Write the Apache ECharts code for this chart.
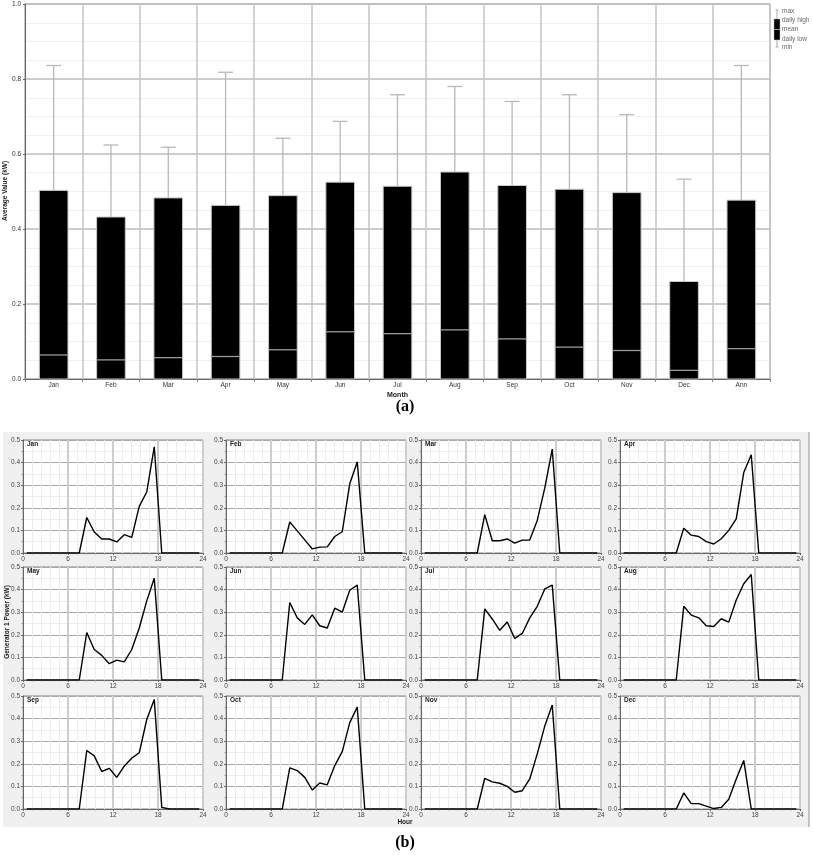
<!DOCTYPE html>
<html>
<head>
<meta charset="utf-8">
<script src="https://cdn.jsdelivr.net/npm/echarts@6/dist/echarts.min.js"></script>
<style>
html,body{margin:0;padding:0;background:#fff;}
#chart{width:813px;height:855px;}
</style>
</head>
<body>
<div id="chart"></div>
<script>
// ---- Data: chart (a) monthly statistics ----
const months = ['Jan','Feb','Mar','Apr','May','Jun','Jul','Aug','Sep','Oct','Nov','Dec','Ann'];
const maxVals   = [0.836,0.624,0.618,0.818,0.642,0.687,0.758,0.780,0.740,0.758,0.705,0.533,0.836];
const dailyHigh = [0.503,0.432,0.483,0.463,0.489,0.525,0.514,0.552,0.516,0.506,0.497,0.260,0.477];
const meanVals  = [0.064,0.051,0.057,0.060,0.078,0.126,0.121,0.131,0.107,0.085,0.076,0.023,0.081];
const dailyLow  = [0,0,0,0,0,0,0,0,0,0,0,0,0];
const minVals   = [0,0,0,0,0,0,0,0,0,0,0,0,0];
const yTicksA   = [0.0,0.2,0.4,0.6,0.8,1.0];

// ---- Data: chart (b) daily profiles ----
const hours = [0.5,1.5,2.5,3.5,4.5,5.5,6.5,7.5,8.5,9.5,10.5,11.5,12.5,13.5,14.5,15.5,16.5,17.5,18.5,19.5,20.5,21.5,22.5,23.5];
const panelNames = ['Jan','Feb','Mar','Apr','May','Jun','Jul','Aug','Sep','Oct','Nov','Dec'];
const jan = [0,0,0,0,0,0,0,0,0.157,0.093,0.062,0.062,0.049,0.081,0.069,0.206,0.270,0.470,0,0,0,0,0,0];
const feb = [0,0,0,0,0,0,0,0,0.137,0.098,0.058,0.018,0.026,0.027,0.073,0.094,0.306,0.403,0,0,0,0,0,0];
const mar = [0,0,0,0,0,0,0,0,0.170,0.054,0.054,0.062,0.044,0.057,0.057,0.144,0.287,0.460,0,0,0,0,0,0];
const apr = [0,0,0,0,0,0,0,0,0.110,0.079,0.073,0.050,0.040,0.063,0.100,0.151,0.356,0.435,0,0,0,0,0,0];
const may = [0,0,0,0,0,0,0,0,0.210,0.135,0.109,0.072,0.088,0.080,0.135,0.230,0.350,0.450,0,0,0,0,0,0];
const jun = [0,0,0,0,0,0,0,0,0.343,0.275,0.246,0.288,0.240,0.230,0.318,0.300,0.397,0.420,0,0,0,0,0,0];
const jul = [0,0,0,0,0,0,0,0,0.315,0.270,0.220,0.257,0.184,0.206,0.275,0.326,0.403,0.420,0,0,0,0,0,0];
const aug = [0,0,0,0,0,0,0,0,0.326,0.287,0.275,0.240,0.237,0.271,0.256,0.354,0.426,0.467,0,0,0,0,0,0];
const sep = [0,0,0,0,0,0,0,0,0.259,0.235,0.166,0.180,0.140,0.190,0.225,0.249,0.396,0.485,0.007,0,0,0,0,0];
const oct = [0,0,0,0,0,0,0,0,0.182,0.170,0.140,0.084,0.115,0.107,0.192,0.254,0.382,0.451,0,0,0,0,0,0];
const nov = [0,0,0,0,0,0,0,0,0.136,0.120,0.114,0.100,0.074,0.081,0.133,0.244,0.367,0.460,0,0,0,0,0,0];
const dec = [0,0,0,0,0,0,0,0,0.071,0.024,0.024,0.013,0.002,0.007,0.043,0.133,0.215,0,0,0,0,0,0,0];
const profiles = [jan,feb,mar,apr,may,jun,jul,aug,sep,oct,nov,dec];
const hourTicks = [0,6,12,18,24];

// ---- Layout (not data) ----
const FONT = 'Liberation Sans, Arial, sans-serif';
const colLefts = [23, 226, 421, 620];
const rowTops = [440, 567, 696];
const panelW = 180, panelH = 113;

const chart = echarts.init(document.getElementById('chart'), null, {renderer:'canvas'});

const grids = [], xAxes = [], yAxes = [], series = [], titles = [];

// chart (a)
grids.push({left:25, right:43, top:4, bottom:476, show:true, borderColor:'#999', borderWidth:1, backgroundColor:'#fff', containLabel:false, outerBoundsMode:'none'});
xAxes.push({
  type:'category', gridIndex:0, data:months, boundaryGap:true,
  name:'Month', nameLocation:'middle', nameGap:13,
  nameTextStyle:{fontFamily:FONT, fontSize:7, fontWeight:'bold', color:'#222'},
  axisLine:{lineStyle:{color:'#666', width:1}},
  axisTick:{show:true, length:3, lineStyle:{color:'#888'}},
  axisLabel:{fontFamily:FONT, fontSize:6.5, color:'#333', margin:3},
  splitLine:{show:true, lineStyle:{color:'#c4c4c4', width:1.5}}
});
yAxes.push({
  type:'value', gridIndex:0, min:0, max:1, interval:0.2,
  axisLine:{show:true, lineStyle:{color:'#666', width:1}},
  axisTick:{show:true, length:2, lineStyle:{color:'#666'}},
  axisLabel:{fontFamily:FONT, fontSize:6.5, color:'#333', margin:4, formatter:v=>v.toFixed(1)},
  splitLine:{show:true, lineStyle:{color:'#bdbdbd', width:1.5}},
  minorTick:{show:false, splitNumber:4},
  minorSplitLine:{show:true, lineStyle:{color:'#f0f0f0', width:1}}
});
const boxData = months.map((m,i)=>[i, dailyLow[i], meanVals[i], dailyHigh[i], maxVals[i], minVals[i]]);
series.push({
  type:'custom', xAxisIndex:0, yAxisIndex:0, z:5,
  encode:{x:0, y:[1,2,3,4,5]},
  data:boxData,
  renderItem:function(params, api){
    const x = api.value(0);
    const low = api.coord([x, api.value(1)]);
    const mean = api.coord([x, api.value(2)]);
    const high = api.coord([x, api.value(3)]);
    const mx = api.coord([x, api.value(4)]);
    const mn = api.coord([x, api.value(5)]);
    const bw = api.size([1,0])[0]*0.5;
    const cw = bw*0.52;
    const wc = '#b8b8b8';
    return {type:'group', children:[
      {type:'line', shape:{x1:mx[0], y1:mx[1], x2:high[0], y2:high[1]}, style:{stroke:wc, lineWidth:1.3}},
      {type:'line', shape:{x1:mx[0]-cw/2, y1:mx[1], x2:mx[0]+cw/2, y2:mx[1]}, style:{stroke:wc, lineWidth:1.3}},
      {type:'line', shape:{x1:mn[0], y1:mn[1], x2:low[0], y2:low[1]}, style:{stroke:wc, lineWidth:1.3}},
      {type:'rect', shape:{x:high[0]-bw/2, y:high[1], width:bw, height:low[1]-high[1]}, style:{fill:'#000', stroke:'#c8c8c8', lineWidth:1}},
      {type:'line', shape:{x1:mean[0]-bw/2, y1:mean[1], x2:mean[0]+bw/2, y2:mean[1]}, style:{stroke:'#9a9a9a', lineWidth:1.3}}
    ]};
  }
});

// chart (b) panels
profiles.forEach((prof, k)=>{
  const r = Math.floor(k/4), c = k%4;
  const gi = k+1;
  grids.push({left:colLefts[c], top:rowTops[r], width:panelW, height:panelH, show:true,
    backgroundColor:'#fff', borderColor:'#888', borderWidth:1, containLabel:false, outerBoundsMode:'none'});
  xAxes.push({
    type:'value', gridIndex:gi, min:0, max:24, interval:6,
    axisLine:{lineStyle:{color:'#666', width:1}},
    axisTick:{show:true, length:2, lineStyle:{color:'#666'}},
    minorTick:{show:true, splitNumber:5, length:1.5, lineStyle:{color:'#999'}},
    axisLabel:{fontFamily:FONT, fontSize:6.5, color:'#444', margin:3},
    splitLine:{show:true, lineStyle:{color:'#cdcdcd', width:2}},
    minorSplitLine:{show:true, lineStyle:{color:'#ececec', width:1}}
  });
  yAxes.push({
    type:'value', gridIndex:gi, min:0, max:0.5, interval:0.1,
    axisLine:{show:true, lineStyle:{color:'#666', width:1}},
    axisTick:{show:true, length:2, lineStyle:{color:'#666'}},
    minorTick:{show:true, splitNumber:2, length:1.5, lineStyle:{color:'#999'}},
    axisLabel:{fontFamily:FONT, fontSize:6.5, color:'#444', margin:3, formatter:v=>v.toFixed(1)},
    splitLine:{show:true, lineStyle:{color:'#a8a8a8', width:1}},
    minorSplitLine:{show:true, lineStyle:{color:'#ececec', width:1}}
  });
  series.push({
    type:'line', xAxisIndex:gi, yAxisIndex:gi, showSymbol:false, symbol:'none',
    data:hours.map((h,i)=>[h, prof[i]]),
    lineStyle:{color:'#000', width:1.4}, z:5, silent:true
  });
  titles.push({text:panelNames[k], left:colLefts[c]+4, top:rowTops[r]+1,
    textStyle:{fontFamily:FONT, fontSize:6.5, fontWeight:'bold', color:'#222'}, padding:0});
});

const legendTxt = {fontFamily:FONT, fontSize:6.5, fill:'#666'};
const option = {
  backgroundColor:'#fff',
  animation:false,
  title:titles,
  grid:grids, xAxis:xAxes, yAxis:yAxes, series:series,
  graphic:[
    {type:'rect', z:-10, shape:{x:3, y:432, width:806, height:395}, style:{fill:'#f0f0f0'}},
    {type:'rect', z:-9, shape:{x:808, y:432, width:2, height:395}, style:{fill:'#c4c4c4'}},
    // legend of (a)
    {type:'line', shape:{x1:777, y1:10, x2:777, y2:47}, style:{stroke:'#aaa', lineWidth:1}},
    {type:'line', shape:{x1:775.5, y1:10, x2:778.5, y2:10}, style:{stroke:'#aaa', lineWidth:1}},
    {type:'line', shape:{x1:775.5, y1:47, x2:778.5, y2:47}, style:{stroke:'#aaa', lineWidth:1}},
    {type:'rect', shape:{x:774, y:19, width:6, height:21}, style:{fill:'#000', stroke:'#bbb', lineWidth:0.5}},
    {type:'line', shape:{x1:774, y1:29.5, x2:780, y2:29.5}, style:{stroke:'#999', lineWidth:1}},
    {type:'text', x:782, y:11, style:Object.assign({text:'max', verticalAlign:'middle'}, legendTxt)},
    {type:'text', x:782, y:20, style:Object.assign({text:'daily high', verticalAlign:'middle'}, legendTxt)},
    {type:'text', x:782, y:29.5, style:Object.assign({text:'mean', verticalAlign:'middle'}, legendTxt)},
    {type:'text', x:782, y:39, style:Object.assign({text:'daily low', verticalAlign:'middle'}, legendTxt)},
    {type:'text', x:782, y:47, style:Object.assign({text:'min', verticalAlign:'middle'}, legendTxt)},
    // axis title of (a)
    {type:'text', x:5, y:191, rotation:Math.PI/2, style:{text:'Average Value (kW)', fontFamily:FONT, fontSize:6.5, fontWeight:'bold', fill:'#222', align:'center', verticalAlign:'middle'}},
    // captions
    {type:'text', x:405, y:407, style:{text:'(a)', fontFamily:'Liberation Serif, Times New Roman, serif', fontSize:16, fontWeight:'bold', fill:'#000', align:'center', verticalAlign:'middle'}},
    {type:'text', x:405, y:843, style:{text:'(b)', fontFamily:'Liberation Serif, Times New Roman, serif', fontSize:16, fontWeight:'bold', fill:'#000', align:'center', verticalAlign:'middle'}},
    {type:'text', x:405, y:822, style:{text:'Hour', fontFamily:FONT, fontSize:6.5, fontWeight:'bold', fill:'#222', align:'center', verticalAlign:'middle'}},
    {type:'text', x:7, y:622, rotation:Math.PI/2, style:{text:'Generator 1 Power (kW)', fontFamily:FONT, fontSize:6.5, fontWeight:'bold', fill:'#222', align:'center', verticalAlign:'middle'}}
  ]
};
chart.setOption(option);
</script>
</body>
</html>
